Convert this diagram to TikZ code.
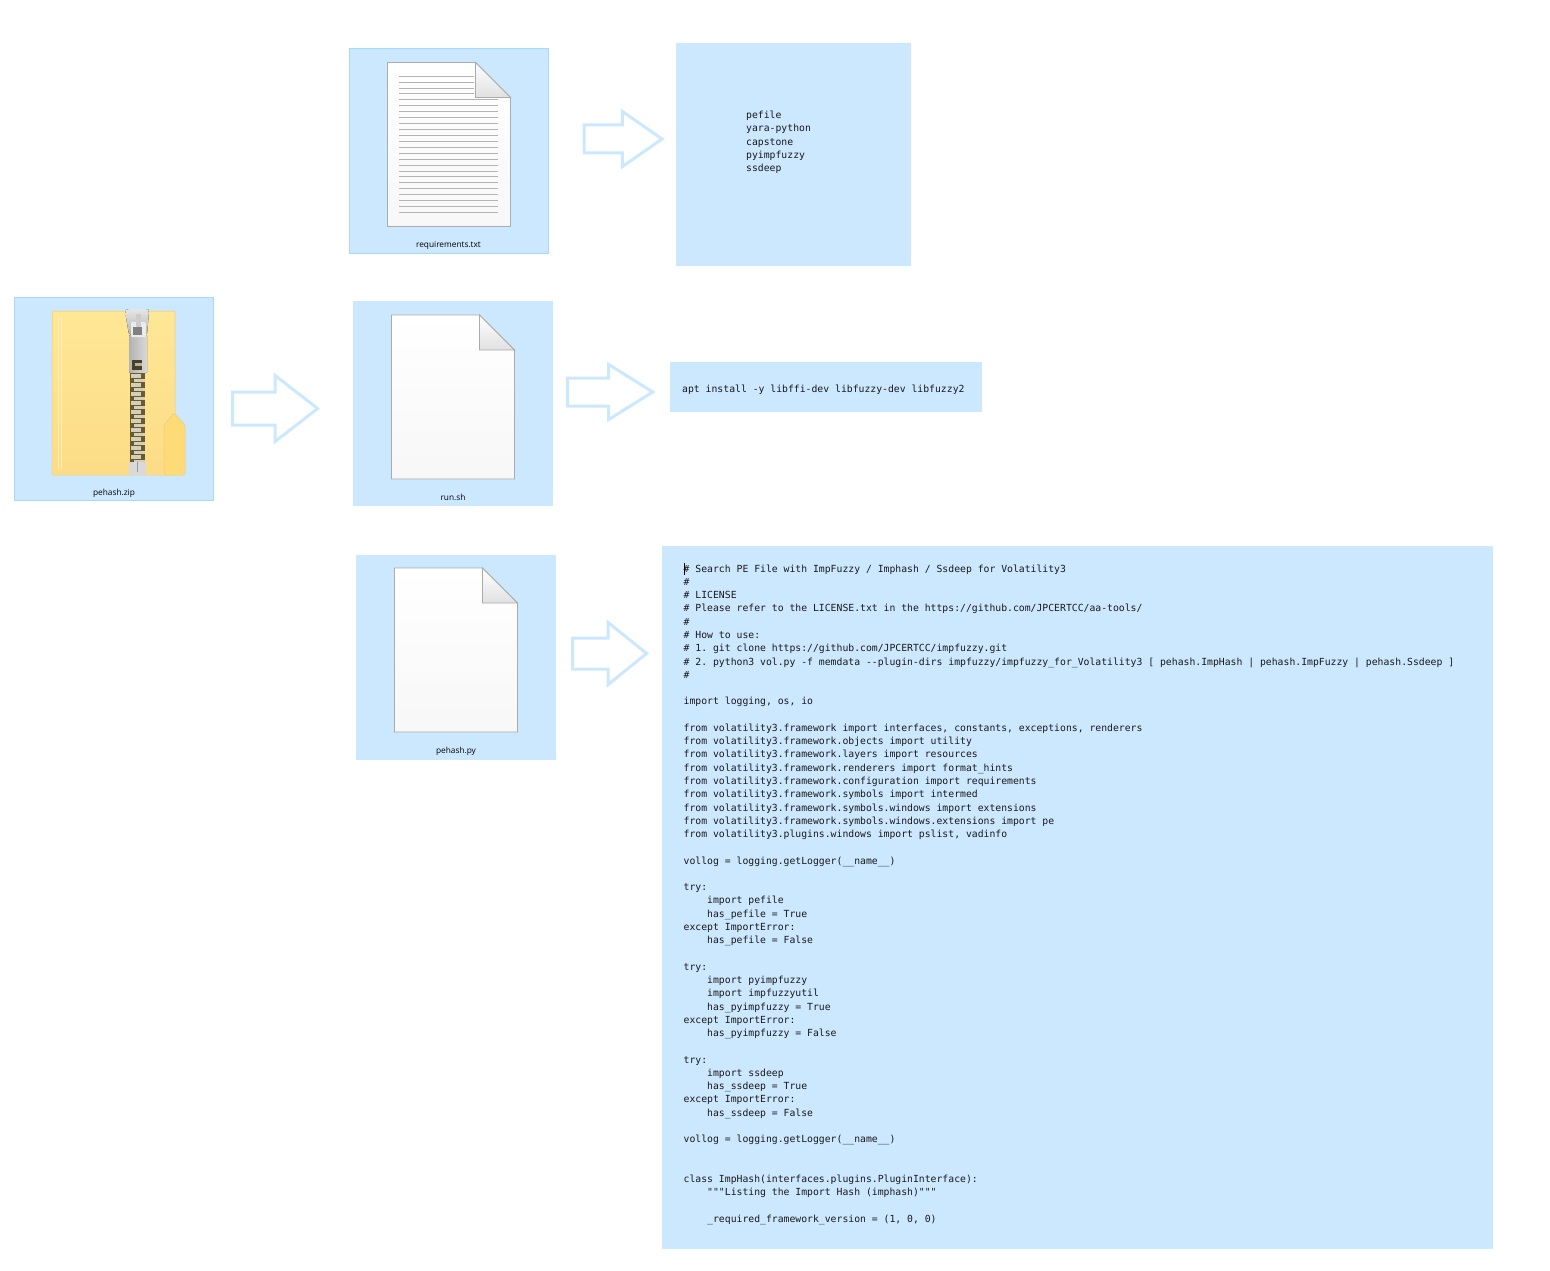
\documentclass[tikz,border=0pt]{standalone}
\usepackage{fontspec}
\setmainfont{Open Sans}
\setmonofont{DejaVu Sans Mono}
\usetikzlibrary{positioning, shapes.arrows}

\definecolor{selfill}{HTML}{CCE8FF}
\definecolor{seledge}{HTML}{A8D8FF}
\definecolor{paperedge}{HTML}{ABABAB}
\definecolor{ruleline}{HTML}{B4B4B4}
\definecolor{foldertop}{HTML}{FFE796}
\definecolor{folderlow}{HTML}{FCDC86}
\definecolor{folderedge}{HTML}{EFCB6E}
\definecolor{pocket}{HTML}{FFDB78}
\definecolor{zipdark}{HTML}{6A5A2C}
\definecolor{ziptooth}{HTML}{D2CFBA}
\definecolor{zipgrey}{HTML}{BDBDBD}

\tikzset{
    iconbox/.style={fill=selfill, draw=seledge, line width=0.6pt, anchor=north west, inner sep=0pt, outer sep=0pt},
    textbox/.style={fill=selfill, anchor=north west, inner sep=0pt, outer sep=0pt},
    filelabel/.style={font=\fontsize{8.3}{10}\selectfont, text=black, inner sep=0pt},
    codetext/.style={font=\ttfamily\fontsize{9.77}{13.27}\selectfont, text=black!90, align=left, anchor=north west, inner sep=0pt},
    bigarrow/.style n args={4}{single arrow, draw=selfill, line width=3pt, fill=none, inner xsep=0pt, inner ysep=#3/2, outer sep=0pt,
        minimum height=#1, minimum width=#2, single arrow head extend={(#2-#3)/2*1pt},
        single arrow head indent=0pt, single arrow tip angle=#4},
    fileicon/.pic={
        \path[draw=paperedge, line width=0.9pt, top color=white, bottom color=black!3]
            (0,0) -- (88,0) -- (123,35) -- (123,164) -- (0,164) -- cycle;
        \path[draw=paperedge, line width=0.9pt, shading angle=45, top color=white, bottom color=black!12]
            (88,0) -- (123,35) -- (88,35) -- cycle;
    }
}

\begin{document}
\begin{tikzpicture}[x=1pt, y=-1pt]
    \useasboundingbox (0,0) rectangle (1550,1271);

    % Selected icons and text panes
    \node[iconbox, minimum width=199, minimum height=203] (zipbox) at (14,297) {};
    \node[iconbox, minimum width=199, minimum height=205] (reqbox) at (349,48) {};
    \node[iconbox, draw=selfill, minimum width=199.5, minimum height=204.5] (runbox) at (353,301) {};
    \node[iconbox, draw=selfill, minimum width=199.5, minimum height=204.5] (pybox) at (356,555) {};
    \node[textbox, minimum width=235, minimum height=223] (reqtext) at (676,43) {};
    \node[textbox, minimum width=312, minimum height=49.5] (runtext) at (670,362) {};
    \node[textbox, minimum width=831, minimum height=703] (pytext) at (662,546) {};

    % Paper icons
    \pic at (387.5,62.5) {fileicon};
    \pic at (391.5,315) {fileicon};
    \pic at (394.5,568) {fileicon};

    % Ruled lines of requirements.txt
    \foreach \i in {0,...,23} {
        \pgfmathsetmacro{\ly}{76+5.93*\i}
        \ifnum\i<4
            \draw[ruleline, line width=0.7pt] (399,\ly) -- (474,\ly);
        \else
            \draw[ruleline, line width=0.7pt] (399,\ly) -- (498,\ly);
        \fi
    }

    % Folder
    \fill[foldertop!60!folderlow, draw=folderedge, line width=0.5pt, rounded corners=2pt]
        (52,311) -- (175,311) -- (175,475) -- (52,475) -- cycle;
    \fill[shading angle=45, top color=foldertop, bottom color=folderlow] (53,312) rectangle (174,474);
    \draw[white!30!foldertop, line width=0.7pt] (58,316) -- (58,470);
    \draw[white!30!foldertop, line width=0.7pt] (61,316) -- (61,470);
    \fill[pocket, draw=folderedge, line width=0.5pt, rounded corners=2pt]
        (164,475) -- (164,425) -- (174,413) -- (185,425) -- (185,475) -- cycle;

    % Zipper teeth
    \fill[zipdark] (130,373) rectangle (145,463);
    \foreach \ty in {374,383,...,460} {
        \fill[ziptooth] (130.5,\ty) rectangle (141,\ty+4);
        \fill[ziptooth] (134,\ty+4.5) rectangle (144.5,\ty+8);
    }

    % Zipper slider
    \fill[black!15] (129,462) rectangle (146,475);
    \draw[black!40, line width=0.6pt] (137.5,462) -- (137.5,472);
    \fill[top color=black!10, bottom color=black!30, rounded corners=2pt]
        (125,311) -- (127,309) -- (148,309) -- (149,311) -- (147,335) -- (129,335) -- cycle;
    \fill[left color=black!30, right color=black!15, rounded corners=1pt] (129,335) rectangle (147,373);
    \fill[black!8, rounded corners=1pt] (131,322) rectangle (146,337);
    \fill[black!50] (133,327) rectangle (142,335);
    \fill[black!20] (136,314) rectangle (141,327);
    \fill[zipdark!70!black] (132,360) rectangle (142,370);
    \fill[black!30] (135,363) rectangle (142,366);

    % Arrows
    \node[bigarrow={85}{63}{30}{75.7}] (ziparrow) at (264.5,408.5) {};
    \node[bigarrow={78}{52}{25}{69.5}] (reqarrow) at (613,139) {};
    \node[bigarrow={85}{52}{25}{64}] (runarrow) at (599,392) {};
    \node[bigarrow={74}{59}{28}{77.8}] (pyarrow) at (600,653.5) {};

    % File names
    \node[filelabel] (ziplabel) at (114,493.5) {pehash.zip};
    \node[filelabel] (reqlabel) at (448.5,245) {requirements.txt};
    \node[filelabel] (runlabel) at (453,497) {run.sh};
    \node[filelabel] (pylabel) at (456,751) {pehash.py};

    % File contents
    \node[codetext] (reqcode) at (746,111) {pefile\\yara-python\\capstone\\pyimpfuzzy\\ssdeep};
    \node[codetext] (runcode) at (682,385) {apt install -y libffi-dev libfuzzy-dev libfuzzy2};
    \node[codetext] (pycode) at (683.5,564.5) {%
        \# Search PE File with ImpFuzzy / Imphash / Ssdeep for Volatility3\\
        \#\\
        \# LICENSE\\
        \# Please refer to the LICENSE.txt in the https://github.com/JPCERTCC/aa-tools/\\
        \#\\
        \# How to use:\\
        \# 1. git clone https://github.com/JPCERTCC/impfuzzy.git\\
        \# 2. python3 vol.py -f memdata --plugin-dirs impfuzzy/impfuzzy\_for\_Volatility3 [ pehash.ImpHash | pehash.ImpFuzzy | pehash.Ssdeep ]\\
        \#\\
        ~\\
        import logging, os, io\\
        ~\\
        from volatility3.framework import interfaces, constants, exceptions, renderers\\
        from volatility3.framework.objects import utility\\
        from volatility3.framework.layers import resources\\
        from volatility3.framework.renderers import format\_hints\\
        from volatility3.framework.configuration import requirements\\
        from volatility3.framework.symbols import intermed\\
        from volatility3.framework.symbols.windows import extensions\\
        from volatility3.framework.symbols.windows.extensions import pe\\
        from volatility3.plugins.windows import pslist, vadinfo\\
        ~\\
        vollog = logging.getLogger(\_\_name\_\_)\\
        ~\\
        try:\\
        ~~~~import pefile\\
        ~~~~has\_pefile = True\\
        except ImportError:\\
        ~~~~has\_pefile = False\\
        ~\\
        try:\\
        ~~~~import pyimpfuzzy\\
        ~~~~import impfuzzyutil\\
        ~~~~has\_pyimpfuzzy = True\\
        except ImportError:\\
        ~~~~has\_pyimpfuzzy = False\\
        ~\\
        try:\\
        ~~~~import ssdeep\\
        ~~~~has\_ssdeep = True\\
        except ImportError:\\
        ~~~~has\_ssdeep = False\\
        ~\\
        vollog = logging.getLogger(\_\_name\_\_)\\
        ~\\
        ~\\
        class ImpHash(interfaces.plugins.PluginInterface):\\
        ~~~~"""Listing the Import Hash (imphash)"""\\
        ~\\
        ~~~~\_required\_framework\_version = (1, 0, 0)};

    % Text cursor
    \draw[black, line width=0.7pt] (684,563) -- (684,575);
\end{tikzpicture}
\end{document}
